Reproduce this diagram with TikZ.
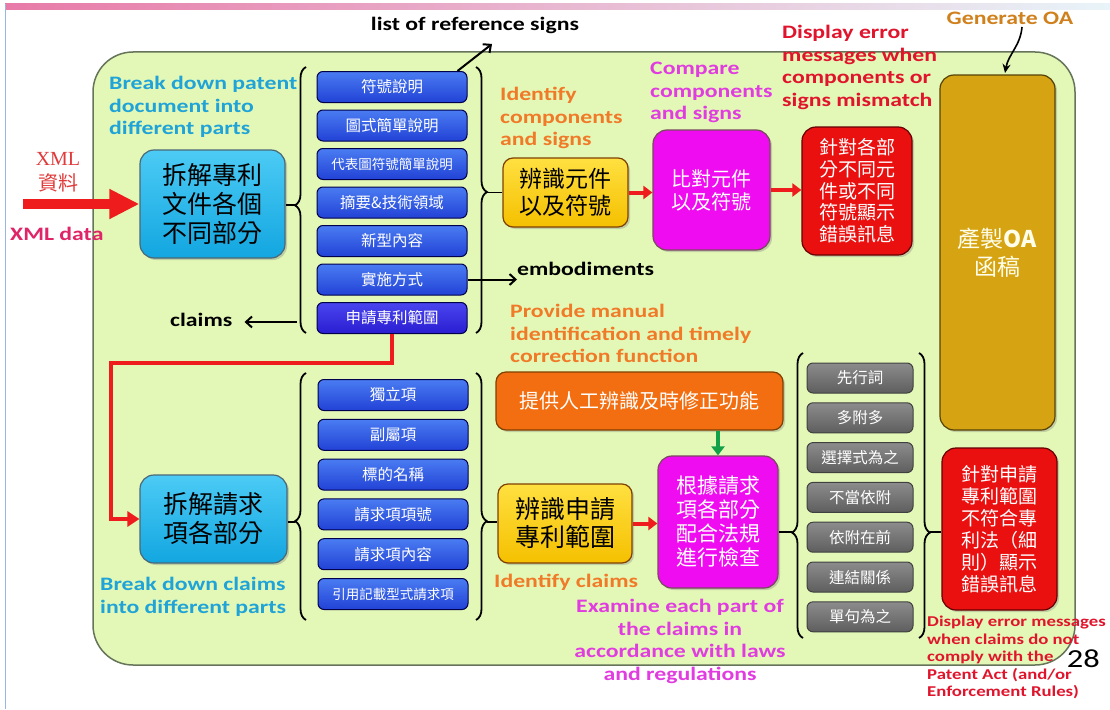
\documentclass[tikz,border=0pt]{standalone}
\usepackage{fontspec}
\setmainfont{Carlito}[FakeStretch=1.25]
\newfontfamily\cjk{Noto Sans CJK TC}
\newfontfamily\xmlserif{Liberation Serif}
\usepackage{tikz}
\usetikzlibrary{positioning, arrows.meta, calc, decorations.pathreplacing, shadows}
\newcommand{\setfs}[2]{\fontsize{#1}{#2}\selectfont}
\definecolor{panelgreen}{HTML}{E3F8B6}
\definecolor{paneledge}{HTML}{66755A}
\definecolor{labelcyan}{HTML}{1FA3D8}
\definecolor{labelorange}{HTML}{F07A28}
\definecolor{labelmagenta}{HTML}{E03CE0}
\definecolor{labelred}{HTML}{E0142C}
\definecolor{labelbrown}{HTML}{D0801C}
\definecolor{xmlpink}{HTML}{E02468}
\definecolor{xmlred}{HTML}{E03A3A}
\definecolor{cyantop}{HTML}{4CCBF5}
\definecolor{cyanbot}{HTML}{12A6E0}
\definecolor{yeltop}{HTML}{FFE040}
\definecolor{yelbot}{HTML}{F5C000}
\definecolor{magfill}{HTML}{F00CF0}
\definecolor{redfill}{HTML}{EA1010}
\definecolor{oafill}{HTML}{D6A412}
\definecolor{orangefill}{HTML}{F26E10}
\definecolor{blutop}{HTML}{4A7CF2}
\definecolor{blubot}{HTML}{2242D6}
\definecolor{violettop}{HTML}{4A44F0}
\definecolor{violetbot}{HTML}{2A1ED0}
\definecolor{graytop}{HTML}{8C8C8C}
\definecolor{graybot}{HTML}{5E5E5E}
\definecolor{arrowred}{HTML}{EE1C1C}
\definecolor{arrowgreen}{HTML}{12A048}
\definecolor{barpink}{HTML}{E87AA8}
\definecolor{barblue}{HTML}{C6E4F0}
\definecolor{edgeblue}{HTML}{9AB4E6}

\tikzset{
  partbox/.style={rounded corners=6pt, draw=black!70!blue, line width=1pt,
    top color=blutop, bottom color=blubot, minimum width=150pt, minimum height=31pt,
    inner sep=0pt, text=white, font=\cjk\setfs{15.5}{15.5}},
  checkbox/.style={partbox, draw=black!75, top color=graytop, bottom color=graybot,
    minimum width=106pt, minimum height=30pt},
  procbox/.style={rounded corners=14pt, line width=1.2pt, align=center, inner sep=0pt,
    drop shadow={shadow xshift=2pt, shadow yshift=-2pt, opacity=.35}},
  note/.style={font=\bfseries\setfs{19}{22.5}, align=left, inner sep=0pt},
  redarrow/.style={draw=arrowred, line width=4pt, -{Triangle[length=9pt, width=13pt]}},
  blackarrow/.style={line width=2pt, -{Straight Barb[length=6pt, width=11pt]}},
  partbrace/.style={decorate, decoration={brace, amplitude=11pt, aspect=#1}, line width=1.8pt},
}

\begin{document}
\begin{tikzpicture}[x=1pt, y=-1pt]
  \useasboundingbox (0,0) rectangle (1110,709);
  \fill[white] (0,0) rectangle (1110,709);
  \fill[left color=barpink, right color=barblue!40] (5,4) rectangle (1110,10);
  \draw[edgeblue, line width=1pt] (5,4) -- (5,709);

  \draw[fill=panelgreen, draw=paneledge, line width=1.5pt, rounded corners=40pt]
    (93,52) rectangle (1075,665);

  % upper row
  \node[procbox, draw=black!60!cyan, top color=cyantop, bottom color=cyanbot,
        minimum width=145pt, minimum height=108pt, font=\cjk\setfs{25}{29}] (split) at (212.5,204)
        {拆解專利\\文件各個\\不同部分};
  \foreach \t/\s [count=\i] in {符號說明/15.5, 圖式簡單說明/15.5, 代表圖符號簡單說明/13.5,
                                  摘要\&技術領域/15.5, 新型內容/15.5, 實施方式/15.5}
    \node[partbox, font=\cjk\setfs{\s}{\s}] (doc\i) at (392,{87+38.5*(\i-1)}) {\t};
  \node[partbox, top color=violettop, bottom color=violetbot] (doc7) at (392,318) {申請專利範圍};

  \node[procbox, draw=black!50!orange, top color=yeltop, bottom color=yelbot,
        minimum width=125pt, minimum height=69pt, rounded corners=10pt,
        font=\cjk\setfs{23}{27}] (ident) at (565.5,192.5) {辨識元件\\以及符號};
  \node[procbox, draw=black!60!magenta, fill=magfill, text=white,
        minimum width=117pt, minimum height=120pt, font=\cjk\setfs{20}{23}] (compare) at (711.5,190)
        {比對元件\\以及符號};
  \node[procbox, draw=black!60!red, fill=redfill, text=white,
        minimum width=110pt, minimum height=128pt, font=\cjk\setfs{19}{21.7}] (mismatch) at (857,191)
        {針對各部\\分不同元\\件或不同\\符號顯示\\錯誤訊息};
  \node[procbox, draw=black!60!oafill, fill=oafill, text=white!92!yellow,
        minimum width=115pt, minimum height=355pt, font=\cjk\setfs{23}{28}] (oa) at (997.5,252.5)
        {產製\textbf{OA}\\函稿};

  % lower row
  \node[procbox, draw=black!60!cyan, top color=cyantop, bottom color=cyanbot,
        minimum width=147pt, minimum height=88pt, font=\cjk\setfs{25}{29}] (splitclm) at (213.5,519)
        {拆解請求\\項各部分};
  \foreach \t/\s [count=\i] in {獨立項/15.5, 副屬項/15.5, 標的名稱/15.5, 請求項項號/15.5,
                                  請求項內容/15.5, 引用記載型式請求項/13.5}
    \node[partbox, font=\cjk\setfs{\s}{\s}] (clm\i) at (393,{395+39.8*(\i-1)}) {\t};

  \node[procbox, draw=black!50!orange, top color=yeltop, bottom color=yelbot,
        minimum width=134pt, minimum height=79pt, rounded corners=10pt,
        font=\cjk\setfs{25}{28}] (identclm) at (565,523.5) {辨識申請\\專利範圍};
  \node[procbox, draw=black!50!orange, fill=orangefill, text=white, rounded corners=10pt,
        minimum width=287pt, minimum height=58pt, font=\cjk\setfs{20}{20}] (manual) at (639.5,401)
        {提供人工辨識及時修正功能};
  \node[procbox, draw=black!60!magenta, fill=magfill, text=white,
        minimum width=120pt, minimum height=132pt, font=\cjk\setfs{21}{24}] (examine) at (718,522)
        {根據請求\\項各部分\\配合法規\\進行檢查};
  \foreach \t [count=\i] in {先行詞, 多附多, 選擇式為之, 不當依附, 依附在前, 連結關係, 單句為之}
    \node[checkbox] (rule\i) at (860,{378+39.8*(\i-1)}) {\t};
  \node[procbox, draw=black!60!red, fill=redfill, text=white,
        minimum width=115pt, minimum height=162pt, font=\cjk\setfs{19}{22}] (violate) at (999.5,529)
        {針對申請\\專利範圍\\不符合專\\利法（細\\則）顯示\\錯誤訊息};

  % braces
  \draw[partbrace=0.48] (306,333) -- (306,67);
  \draw[partbrace=0.47] (476,67) -- (476,333);
  \draw[partbrace=0.40] (306,620) -- (306,373);
  \draw[partbrace=0.60] (476,373) -- (476,620);
  \draw[partbrace=0.37] (803,638) -- (803,353);
  \draw[partbrace=0.63] (919,353) -- (919,638);
  \coordinate (tipA) at (295,205);
  \coordinate (tipB) at (487,192.5);
  \coordinate (tipC) at (295,522);
  \coordinate (tipD) at (487,522);
  \coordinate (tipE) at (792,532);
  \coordinate (tipF) at (930,532);
  \draw[line width=1.8pt] (split.east |- tipA) -- (tipA);
  \draw[line width=1.8pt] (tipB) -- (ident.west |- tipB);
  \draw[line width=1.8pt] (splitclm.east |- tipC) -- (tipC);
  \draw[line width=1.8pt] (tipD) -- (identclm.west |- tipD);
  \draw[line width=1.8pt] (examine.east |- tipE) -- (tipE);
  \draw[line width=1.8pt] (tipF) -- (violate.west |- tipF);

  % labels
  \node[note, text=labelcyan, anchor=north west] (lblsplit) at (109,76)
       {Break down patent\\document into\\different parts};
  \node[note, text=labelorange, anchor=north west] (lblident) at (500,87)
       {Identify\\components\\and signs};
  \node[note, text=labelmagenta, anchor=north west] (lblcompare) at (650,62)
       {Compare\\components\\and signs};
  \node[note, text=labelred, anchor=north west] (lblmismatch) at (782,25)
       {Display error\\messages when\\components or\\signs mismatch};
  \node[note, text=labelbrown, anchor=north] (lbloa) at (1010,12) {Generate OA};
  \node[note, anchor=north] (refsigns) at (475,17) {list of reference signs};
  \node[note, anchor=west] (embod) at (517,269) {embodiments};
  \node[note, anchor=west] (claims) at (170,320) {claims};
  \node[note, text=xmlpink, anchor=north west] (xmldata) at (10,227) {XML data};
  \node[inner sep=0pt, text=xmlred, align=center, font=\xmlserif\setfs{20}{25}] (xmlsrc) at (58,172)
       {XML\\{\cjk 資料}};
  \node[note, text=labelcyan, anchor=north west] (lblsplitclm) at (100,577)
       {Break down claims\\into different parts};
  \node[note, text=labelorange, anchor=north west] (lblmanual) at (510,304)
       {Provide manual\\identification and timely\\correction function};
  \node[note, text=labelorange, anchor=north west] (lblidentclm) at (494,574) {Identify claims};
  \node[note, text=labelmagenta, align=center, anchor=north] (lblexamine) at (680,599)
       {Examine each part of\\the claims in\\accordance with laws\\and regulations};
  \node[note, text=labelred, font=\bfseries\setfs{15}{17.5}, anchor=north west] (lblviolate) at (927,616)
       {Display error messages\\when claims do not\\comply with the\\Patent Act (and/or\\Enforcement Rules)};
  \node[inner sep=0pt, font=\setfs{26}{26}, anchor=base east] (pagenum) at (1100,667) {28};

  % connectors
  \draw[draw=arrowred, line width=10pt, -{Triangle[length=30pt, width=28pt]}] (23,204) -- (split.west);
  \draw[redarrow] (ident.east) -- (ident.east -| compare.west);
  \draw[redarrow] (compare.east) -- (compare.east -| mismatch.west);
  \draw[redarrow] (identclm.east) -- (identclm.east -| examine.west);
  \draw[draw=arrowgreen, line width=4pt, -{Triangle[length=9pt, width=13pt]}]
    (examine.north |- manual.south) -- (examine.north);
  \draw[draw=arrowred, line width=4pt, -{Triangle[length=12pt, width=15pt]}]
    (doc7.south) -- ++(0,29) -| ($(splitclm.west)+(-28,0)$) -- (splitclm.west);
  \draw[blackarrow] ([xshift=-10pt]doc1.north east) -- ([xshift=17pt, yshift=-10pt]refsigns.south);
  \draw[blackarrow] (doc6.east) -- (embod.west |- doc6.east);
  \coordinate (clmtail) at (297,322);
  \draw[blackarrow, shorten >=12pt] (clmtail) -- (claims.east |- clmtail);
  \draw[line width=1.6pt, -{Stealth[length=9pt, width=8pt]}] (lbloa.south) ++(12,2)
    to[out=-95, in=80] (1005,73);
\end{tikzpicture}
\end{document}
